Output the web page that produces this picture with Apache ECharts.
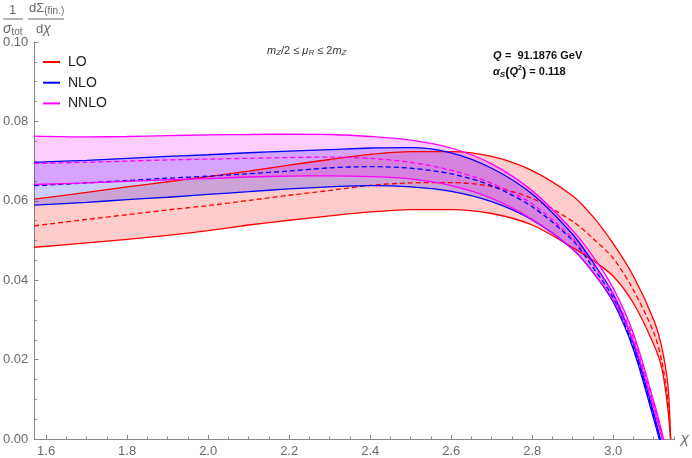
<!DOCTYPE html>
<html><head><meta charset="utf-8">
<script src="https://cdn.jsdelivr.net/npm/echarts@6/dist/echarts.min.js"></script>
<style>html,body{margin:0;padding:0;background:#fff}#c{width:692px;height:458px}</style>
</head><body><div id="c"></div>
<script>
// chi values (x)
var chi = [1.5708, 1.7, 1.8, 1.9, 2.0, 2.1, 2.2, 2.3, 2.4, 2.5, 2.6, 2.7, 2.8, 2.9, 2.95, 3.0, 3.05, 3.1, 3.12, 3.135, 3.1416];
// LO
var loLower   = [0.0483,0.0494,0.0503,0.0513,0.0525,0.0539,0.0551,0.0562,0.0572,0.0578,0.0578,0.0568,0.0539,0.0482,0.0450,0.0410,0.0342,0.0238,0.0178,0.0075,0.0];
var loCentral = [0.0537,0.0553,0.0565,0.0577,0.0588,0.0601,0.0614,0.0626,0.0639,0.0645,0.0646,0.0636,0.0606,0.0548,0.0505,0.0455,0.0375,0.0268,0.0195,0.0095,0.0];
var loUpper   = [0.0604,0.0621,0.0635,0.0648,0.0661,0.0675,0.0690,0.0704,0.0717,0.0724,0.0724,0.0712,0.0676,0.0612,0.0560,0.0492,0.0410,0.0300,0.0230,0.0135,0.0];
// NLO
var nloLower   = [0.0589,0.0596,0.0603,0.0609,0.0616,0.0623,0.0630,0.0635,0.0638,0.0635,0.0624,0.0598,0.0552,0.0478,0.0420,0.0345,0.0225,0.0050,-0.0025,-0.0090,-0.0120];
var nloCentral = [0.0638,0.0645,0.0651,0.0657,0.0662,0.0668,0.0675,0.0683,0.0686,0.0682,0.0668,0.0638,0.0585,0.0500,0.0432,0.0355,0.0230,0.0058,-0.0020,-0.0085,-0.0115];
var nloUpper   = [0.0697,0.0702,0.0707,0.0712,0.0716,0.0721,0.0725,0.0729,0.0733,0.0734,0.0721,0.0682,0.0617,0.0515,0.0445,0.0365,0.0240,0.0065,-0.0015,-0.0080,-0.0110];
// NNLO
var nnloLower   = [0.0641,0.0645,0.0649,0.0653,0.0656,0.0660,0.0662,0.0663,0.0661,0.0655,0.0638,0.0606,0.0553,0.0478,0.0420,0.0350,0.0245,0.0078,0.0003,-0.0060,-0.0090];
var nnloCentral = [0.0694,0.0697,0.0700,0.0703,0.0705,0.0707,0.0709,0.0710,0.0707,0.0697,0.0677,0.0644,0.0592,0.0505,0.0440,0.0365,0.0255,0.0088,0.0010,-0.0055,-0.0085];
var nnloUpper   = [0.0763,0.0761,0.0762,0.0764,0.0766,0.0767,0.0768,0.0767,0.0762,0.0753,0.0733,0.0693,0.0625,0.0525,0.0460,0.0380,0.0265,0.0095,0.0018,-0.0050,-0.0080];

var xMajor = [1.6, 1.8, 2.0, 2.2, 2.4, 2.6, 2.8, 3.0];
var xMinor = [1.65,1.7,1.75,1.85,1.9,1.95,2.05,2.1,2.15,2.25,2.3,2.35,2.45,2.5,2.55,2.65,2.7,2.75,2.85,2.9,2.95,3.05,3.1,3.15];

var FONT = '"Liberation Sans", Arial, sans-serif';
var GREY = '#6a6a6a';

// rows are [y, x] so that stacking acts on the y column
function rows(ys){ return chi.map(function(x,i){ return [ys[i], x]; }); }
function diff(a,b){ return a.map(function(v,i){ return v - b[i]; }); }

var series = [];
function band(name, color, lower, central, upper) {
  var common = { type:'line', symbol:'none', smooth:0.3, encode:{x:1, y:0}, xAxisIndex:0, yAxisIndex:0, animation:false, silent:true, color: color };
  series.push(Object.assign({}, common, { name: name + ' lower', data: rows(lower), stack: name, stackStrategy: 'all', lineStyle:{color:color, width:1.3} }));
  series.push(Object.assign({}, common, { name: name, data: rows(diff(upper, lower)), stack: name, stackStrategy: 'all', lineStyle:{color:color, width:1.3}, areaStyle:{color:color, opacity:0.2} }));
  series.push(Object.assign({}, common, { name: name + ' central', data: rows(central), lineStyle:{color:color, width:1.3, type:[5,3]} }));
}
band('LO', '#ff0000', loLower, loCentral, loUpper);
band('NLO', '#0000ff', nloLower, nloCentral, nloUpper);
band('NNLO', '#ff00ff', nnloLower, nnloCentral, nnloUpper);

var chart = echarts.init(document.getElementById('c'), null, {renderer:'canvas'});
chart.setOption({
  animation: false,
  backgroundColor: '#fff',
  grid: { left: 33, right: 14, top: 42, bottom: 19, containLabel: false },
  legend: {
    orient: 'vertical', left: 43, top: 54, padding: 0, itemGap: 4.7, itemWidth: 17, itemHeight: 2,
    data: [
      {name:'LO', icon:'rect', itemStyle:{color:'#ff0000'}},
      {name:'NLO', icon:'rect', itemStyle:{color:'#0000ff'}},
      {name:'NNLO', icon:'rect', itemStyle:{color:'#ff00ff'}}
    ],
    textStyle: { fontFamily: FONT, fontSize: 14, color: '#222', lineHeight: 16, padding:[0,0,0,3] },
    selectedMode: false
  },
  xAxis: [{
    type: 'value', min: Math.PI/2, max: 3.152,
    axisLine: { lineStyle: { color: '#888', width: 1 } },
    axisTick: { inside: true, length: 4, customValues: xMajor, lineStyle:{color:'#888'} },
    axisLabel: { customValues: xMajor, formatter: function(v){ return v.toFixed(1); }, color: GREY, fontFamily: FONT, fontSize: 13, margin: 6 },
    splitLine: { show: false },
    name: 'χ', nameLocation: 'end', nameGap: 6,
    nameTextStyle: { fontStyle: 'italic', fontFamily: FONT, fontSize: 15, color: GREY, verticalAlign:'middle', padding:[10,0,0,0] }
  }, {
    type: 'value', min: Math.PI/2, max: 3.152, position: 'bottom',
    axisLine: { show: false },
    axisTick: { inside: true, length: 2.5, customValues: xMinor, lineStyle:{color:'#888'} },
    axisLabel: { show: false },
    splitLine: { show: false }
  }],
  yAxis: {
    type: 'value', min: 0, max: 0.1, interval: 0.02,
    axisLine: { show: true, lineStyle: { color: '#888', width: 1 } },
    axisTick: { show: true, inside: true, length: 4, lineStyle:{color:'#888'} },
    minorTick: { show: true, splitNumber: 4, length: 2.5, lineStyle:{color:'#888'} },
    axisLabel: { formatter: function(v){ return v.toFixed(2); }, color: GREY, fontFamily: FONT, fontSize: 13, margin: 6 },
    splitLine: { show: false }
  },
  graphic: [
    { type:'text', left: 9, top: 4, style:{ text:'1', fontFamily: FONT, fontSize: 13, fill: GREY } },
    { type:'line', shape:{x1:3, y1:19, x2:23, y2:19}, style:{stroke: GREY, lineWidth: 1} },
    { type:'text', left: 3, top: 22, style:{ text:'{s|σ}{t|tot}', fontFamily: FONT, fill: GREY,
        rich:{ s:{fontStyle:'italic', fontSize:14, fill:GREY, fontFamily: FONT}, t:{fontSize:10, fill:GREY, fontFamily: FONT, padding:[6,0,0,0]} } } },
    { type:'text', left: 29, top: 2, style:{ text:'{a|dΣ}{b|(fin.)}', fontFamily: FONT, fill: GREY,
        rich:{ a:{fontSize:13, fill:GREY, fontFamily: FONT}, b:{fontSize:10, fill:GREY, fontFamily: FONT, padding:[6,0,0,0]} } } },
    { type:'line', shape:{x1:28, y1:19, x2:64, y2:19}, style:{stroke: GREY, lineWidth: 1} },
    { type:'text', left: 36, top: 22, style:{ text:'{a|d}{b|χ}', fontFamily: FONT, fill: GREY,
        rich:{ a:{fontSize:13, fill:GREY, fontFamily: FONT}, b:{fontSize:14, fontStyle:'italic', fill:GREY, fontFamily: FONT} } } },
    { type:'text', left: 267, top: 45, style:{ text:'{i|m}{s|Z}{n|/2 ≤ }{i|μ}{s|R}{n| ≤ 2}{i|m}{s|Z}', fill:'#333',
        rich:{ i:{fontStyle:'italic', fontSize:11, fill:'#333', fontFamily: FONT},
               n:{fontSize:11, fill:'#333', fontFamily: FONT},
               s:{fontStyle:'italic', fontSize:8, fill:'#333', fontFamily: FONT, padding:[4,0,0,0]} } } },
    { type:'text', left: 493, top: 50, style:{ text:'{i|Q} {n|=  91.1876 GeV}', fill:'#111',
        rich:{ i:{fontStyle:'italic', fontWeight:'bold', fontSize:11, fill:'#111', fontFamily: FONT},
               n:{fontWeight:'bold', fontSize:11, fill:'#111', fontFamily: FONT} } } },
    { type:'text', left: 493, top: 65, style:{ text:'{i|α}{s|S}{p|(}{i|Q}{u|2}{p|)}{n| = 0.118}', fill:'#111',
        rich:{ i:{fontStyle:'italic', fontWeight:'bold', fontSize:11, fill:'#111', fontFamily: FONT},
               n:{fontWeight:'bold', fontSize:11, fill:'#111', fontFamily: FONT},
               p:{fontWeight:'bold', fontSize:13, fill:'#111', fontFamily: FONT},
               s:{fontStyle:'italic', fontWeight:'bold', fontSize:8, fill:'#111', fontFamily: FONT, padding:[5,0,0,0]},
               u:{fontWeight:'bold', fontSize:7, fill:'#111', fontFamily: FONT, padding:[0,0,7,0]} } } }
  ],
  series: series
});
</script></body></html>
